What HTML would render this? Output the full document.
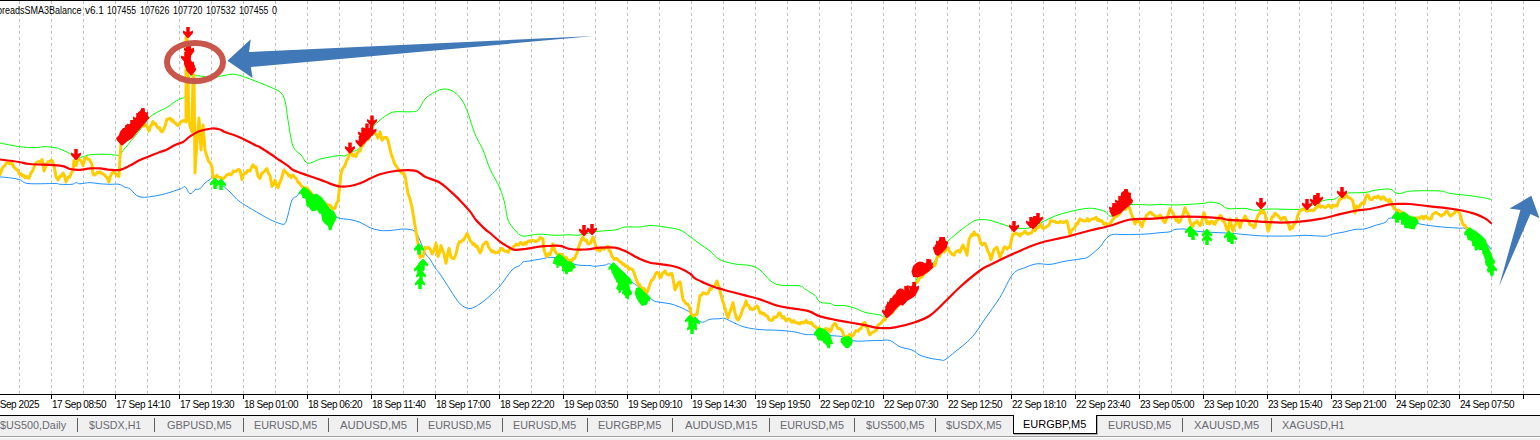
<!DOCTYPE html>
<html><head><meta charset="utf-8"><style>
html,body{margin:0;padding:0;width:1540px;height:440px;overflow:hidden;background:#fff;}
body{position:relative;font-family:"Liberation Sans",sans-serif;}
svg{position:absolute;left:0;top:0;}
.tl{position:absolute;top:399px;font-size:10px;line-height:12px;letter-spacing:-0.45px;color:#000;white-space:nowrap;}
.top{position:absolute;top:5px;font-size:10px;line-height:12px;color:#000;white-space:nowrap;transform-origin:0 0;}
#tabbar{position:absolute;left:0;top:416px;width:1540px;height:20px;background:#f0f0f0;}
.tab{position:absolute;top:418px;font-size:11.5px;line-height:14px;color:#6a6a72;white-space:nowrap;transform-origin:0 0;}
.sep{position:absolute;top:418px;width:1px;height:14px;background:#606060;}
#active{position:absolute;left:1013px;top:415px;width:82px;height:18px;background:#fff;border:1px solid #000;border-top:none;box-shadow:1px 1px 0 #b0b0b0;}
</style></head><body>
<div id="tabbar"></div>
<div style="position:absolute;left:0;top:436px;width:1540px;height:1px;background:#a0a0a0"></div>
<div style="position:absolute;left:0;top:437px;width:1540px;height:1px;background:#fff"></div>
<div style="position:absolute;left:0;top:438px;width:1540px;height:2px;background:#f0f0f0"></div>
<svg width="1540" height="440" viewBox="0 0 1540 440">
<rect x="0" y="0" width="1540" height="1" fill="#000"/>
<g stroke="#c0c0c0" stroke-width="1" stroke-dasharray="3,3"><line x1="19.5" y1="1" x2="19.5" y2="394" /><line x1="51.5" y1="1" x2="51.5" y2="394" /><line x1="83.5" y1="1" x2="83.5" y2="394" /><line x1="115.5" y1="1" x2="115.5" y2="394" /><line x1="147.5" y1="1" x2="147.5" y2="394" /><line x1="179.5" y1="1" x2="179.5" y2="394" /><line x1="211.5" y1="1" x2="211.5" y2="394" /><line x1="243.5" y1="1" x2="243.5" y2="394" /><line x1="275.5" y1="1" x2="275.5" y2="394" /><line x1="307.5" y1="1" x2="307.5" y2="394" /><line x1="339.5" y1="1" x2="339.5" y2="394" /><line x1="371.5" y1="1" x2="371.5" y2="394" /><line x1="403.5" y1="1" x2="403.5" y2="394" /><line x1="435.5" y1="1" x2="435.5" y2="394" /><line x1="467.5" y1="1" x2="467.5" y2="394" /><line x1="499.5" y1="1" x2="499.5" y2="394" /><line x1="531.5" y1="1" x2="531.5" y2="394" /><line x1="563.5" y1="1" x2="563.5" y2="394" /><line x1="595.5" y1="1" x2="595.5" y2="394" /><line x1="627.5" y1="1" x2="627.5" y2="394" /><line x1="659.5" y1="1" x2="659.5" y2="394" /><line x1="691.5" y1="1" x2="691.5" y2="394" /><line x1="723.5" y1="1" x2="723.5" y2="394" /><line x1="755.5" y1="1" x2="755.5" y2="394" /><line x1="787.5" y1="1" x2="787.5" y2="394" /><line x1="819.5" y1="1" x2="819.5" y2="394" /><line x1="851.5" y1="1" x2="851.5" y2="394" /><line x1="883.5" y1="1" x2="883.5" y2="394" /><line x1="915.5" y1="1" x2="915.5" y2="394" /><line x1="947.5" y1="1" x2="947.5" y2="394" /><line x1="979.5" y1="1" x2="979.5" y2="394" /><line x1="1011.5" y1="1" x2="1011.5" y2="394" /><line x1="1043.5" y1="1" x2="1043.5" y2="394" /><line x1="1075.5" y1="1" x2="1075.5" y2="394" /><line x1="1107.5" y1="1" x2="1107.5" y2="394" /><line x1="1139.5" y1="1" x2="1139.5" y2="394" /><line x1="1171.5" y1="1" x2="1171.5" y2="394" /><line x1="1203.5" y1="1" x2="1203.5" y2="394" /><line x1="1235.5" y1="1" x2="1235.5" y2="394" /><line x1="1267.5" y1="1" x2="1267.5" y2="394" /><line x1="1299.5" y1="1" x2="1299.5" y2="394" /><line x1="1331.5" y1="1" x2="1331.5" y2="394" /><line x1="1363.5" y1="1" x2="1363.5" y2="394" /><line x1="1395.5" y1="1" x2="1395.5" y2="394" /><line x1="1427.5" y1="1" x2="1427.5" y2="394" /><line x1="1459.5" y1="1" x2="1459.5" y2="394" /><line x1="1491.5" y1="1" x2="1491.5" y2="394" /><line x1="1523.5" y1="1" x2="1523.5" y2="394" /></g>
<rect x="0" y="394" width="1540" height="1" fill="#000"/>
<rect x="0" y="415" width="1540" height="1" fill="#000"/>
<g stroke="#000" stroke-width="1"><line x1="51.5" y1="395" x2="51.5" y2="399" /><line x1="115.5" y1="395" x2="115.5" y2="399" /><line x1="179.5" y1="395" x2="179.5" y2="399" /><line x1="243.5" y1="395" x2="243.5" y2="399" /><line x1="307.5" y1="395" x2="307.5" y2="399" /><line x1="371.5" y1="395" x2="371.5" y2="399" /><line x1="435.5" y1="395" x2="435.5" y2="399" /><line x1="499.5" y1="395" x2="499.5" y2="399" /><line x1="563.5" y1="395" x2="563.5" y2="399" /><line x1="627.5" y1="395" x2="627.5" y2="399" /><line x1="691.5" y1="395" x2="691.5" y2="399" /><line x1="755.5" y1="395" x2="755.5" y2="399" /><line x1="819.5" y1="395" x2="819.5" y2="399" /><line x1="883.5" y1="395" x2="883.5" y2="399" /><line x1="947.5" y1="395" x2="947.5" y2="399" /><line x1="1011.5" y1="395" x2="1011.5" y2="399" /><line x1="1075.5" y1="395" x2="1075.5" y2="399" /><line x1="1139.5" y1="395" x2="1139.5" y2="399" /><line x1="1203.5" y1="395" x2="1203.5" y2="399" /><line x1="1267.5" y1="395" x2="1267.5" y2="399" /><line x1="1331.5" y1="395" x2="1331.5" y2="399" /><line x1="1395.5" y1="395" x2="1395.5" y2="399" /><line x1="1459.5" y1="395" x2="1459.5" y2="399" /><line x1="1523.5" y1="395" x2="1523.5" y2="399" /></g>
<g fill="none" stroke-linejoin="round" stroke-linecap="round">
<path d="M0.0,143.0 C3.2,143.6 13.2,145.8 19.0,146.6 C24.8,147.4 30.7,147.7 35.0,147.7 C39.3,147.7 41.7,146.6 45.0,146.6 C48.3,146.6 52.5,147.3 55.0,147.7 C57.5,148.1 57.5,148.0 60.0,149.0 C62.5,150.0 67.3,152.1 70.0,153.6 C72.7,155.1 74.0,157.6 76.0,158.2 C78.0,158.8 79.7,157.6 82.0,157.0 C84.3,156.4 86.2,155.3 90.0,154.8 C93.8,154.3 100.8,154.1 105.0,154.2 C109.2,154.2 112.5,155.0 115.0,155.1 C117.5,155.2 118.5,155.8 120.0,154.8 C121.5,153.9 120.8,153.3 124.0,149.4 C127.2,145.5 134.7,136.7 139.0,131.2 C143.3,125.8 146.5,120.4 150.0,117.0 C153.5,113.6 157.3,112.3 160.0,110.8 C162.7,109.3 163.5,109.5 166.0,108.0 C168.5,106.5 172.5,103.3 175.0,101.7 C177.5,100.1 179.3,99.4 181.0,98.6 C182.7,97.8 184.0,98.5 185.0,96.6 C186.0,94.7 186.2,90.3 187.0,87.0 C187.8,83.7 189.0,78.7 189.8,76.8 C190.6,74.9 190.1,75.6 191.8,75.5 C193.5,75.4 196.6,75.7 200.0,76.0 C203.4,76.3 207.8,77.6 212.0,77.5 C216.2,77.4 221.2,75.8 225.0,75.3 C228.8,74.8 230.8,73.7 235.0,74.3 C239.2,74.9 244.2,76.9 250.0,79.0 C255.8,81.1 265.0,84.8 270.0,87.0 C275.0,89.2 277.5,89.7 280.0,92.0 C282.5,94.3 283.7,96.3 285.0,101.0 C286.3,105.7 286.7,112.5 288.0,120.0 C289.3,127.5 290.8,140.2 293.0,146.0 C295.2,151.8 298.5,152.1 301.0,155.0 C303.5,157.9 304.8,162.5 308.0,163.2 C311.2,163.9 316.3,160.1 320.0,159.1 C323.7,158.1 326.7,157.6 330.0,157.0 C333.3,156.4 337.5,155.7 340.0,155.5 C342.5,155.3 343.3,156.4 345.0,155.9 C346.7,155.4 347.5,153.9 350.0,152.5 C352.5,151.1 356.3,151.7 360.0,147.7 C363.7,143.7 369.0,132.9 372.0,128.6 C375.0,124.3 375.5,124.3 378.0,122.0 C380.5,119.7 384.2,116.7 387.0,115.0 C389.8,113.3 391.2,112.3 395.0,111.8 C398.8,111.3 406.2,112.1 410.0,111.8 C413.8,111.5 415.5,112.1 418.0,110.0 C420.5,107.9 422.2,102.0 425.0,99.0 C427.8,96.0 431.7,93.7 435.0,92.0 C438.3,90.3 441.7,88.9 445.0,89.0 C448.3,89.1 451.7,90.0 455.0,92.7 C458.3,95.5 461.7,98.6 465.0,105.5 C468.3,112.4 472.0,126.6 475.0,134.0 C478.0,141.4 480.5,144.2 483.0,150.0 C485.5,155.8 487.2,162.6 490.0,169.0 C492.8,175.4 497.5,182.3 500.0,188.2 C502.5,194.1 503.7,199.2 505.0,204.5 C506.3,209.8 506.3,215.7 508.0,220.0 C509.7,224.3 512.7,227.5 515.0,230.2 C517.3,232.8 519.5,235.1 522.0,235.9 C524.5,236.8 527.0,235.6 530.0,235.3 C533.0,235.0 535.8,234.2 540.0,234.2 C544.2,234.2 550.0,235.2 555.0,235.3 C560.0,235.4 565.8,234.9 570.0,234.8 C574.2,234.8 575.3,235.6 580.0,235.0 C584.7,234.4 592.2,232.2 598.0,231.4 C603.8,230.6 610.5,230.7 615.0,230.0 C619.5,229.3 620.8,227.5 625.0,227.0 C629.2,226.5 635.8,227.2 640.0,227.0 C644.2,226.8 645.8,225.5 650.0,225.5 C654.2,225.5 660.0,226.2 665.0,227.0 C670.0,227.8 675.8,228.4 680.0,230.0 C684.2,231.6 686.7,234.3 690.0,236.6 C693.3,238.9 696.7,241.6 700.0,244.0 C703.3,246.4 706.7,248.4 710.0,251.0 C713.3,253.6 715.8,257.5 720.0,259.7 C724.2,261.9 730.0,263.0 735.0,264.0 C740.0,265.0 745.8,264.5 750.0,265.5 C754.2,266.5 756.7,267.5 760.0,270.0 C763.3,272.5 766.7,277.8 770.0,280.3 C773.3,282.8 775.0,284.2 780.0,285.1 C785.0,286.0 795.8,285.2 800.0,285.9 C804.2,286.5 802.5,287.4 805.0,289.0 C807.5,290.6 812.8,293.6 815.0,295.4 C817.2,297.2 816.8,298.8 818.0,300.0 C819.2,301.2 820.0,302.1 822.0,302.7 C824.0,303.3 827.8,302.9 830.0,303.4 C832.2,303.9 832.5,305.1 835.0,305.5 C837.5,305.9 841.7,305.2 845.0,305.7 C848.3,306.1 851.7,307.1 855.0,308.2 C858.3,309.3 860.8,311.2 865.0,312.3 C869.2,313.4 876.7,314.3 880.0,315.0 C883.3,315.7 881.7,318.3 885.0,316.4 C888.3,314.5 896.7,306.0 900.0,303.7 C903.3,301.4 902.5,306.2 905.0,302.6 C907.5,299.0 911.7,287.8 915.0,282.0 C918.3,276.2 921.7,271.5 925.0,268.0 C928.3,264.5 932.5,264.1 935.0,260.9 C937.5,257.7 937.8,252.3 940.0,249.0 C942.2,245.7 944.7,244.0 948.0,241.0 C951.3,238.0 956.3,233.7 960.0,230.8 C963.7,227.9 967.2,225.2 970.0,223.4 C972.8,221.6 974.0,220.6 977.0,220.0 C980.0,219.4 984.2,219.4 988.0,220.0 C991.8,220.6 996.2,222.2 1000.0,223.4 C1003.8,224.6 1007.7,226.2 1011.0,227.0 C1014.3,227.8 1016.8,228.3 1020.0,228.4 C1023.2,228.5 1026.3,228.7 1030.0,227.7 C1033.7,226.7 1037.8,224.2 1042.0,222.3 C1046.2,220.4 1050.3,217.8 1055.0,216.0 C1059.7,214.2 1065.0,212.8 1070.0,211.6 C1075.0,210.4 1080.8,209.1 1085.0,208.6 C1089.2,208.1 1091.7,208.1 1095.0,208.6 C1098.3,209.1 1102.2,210.4 1105.0,211.6 C1107.8,212.8 1108.2,217.1 1112.0,216.0 C1115.8,214.9 1121.7,207.0 1128.0,205.2 C1134.3,203.4 1144.7,205.1 1150.0,205.0 C1155.3,204.9 1155.8,204.4 1160.0,204.4 C1164.2,204.4 1170.0,205.0 1175.0,205.0 C1180.0,205.0 1185.0,204.6 1190.0,204.3 C1195.0,204.0 1201.7,203.6 1205.0,203.2 C1208.3,202.8 1207.5,202.0 1210.0,202.1 C1212.5,202.2 1217.0,202.8 1220.0,203.9 C1223.0,205.0 1223.8,207.8 1228.0,208.6 C1232.2,209.3 1240.5,208.1 1245.0,208.4 C1249.5,208.7 1250.8,210.2 1255.0,210.3 C1259.2,210.4 1262.5,209.2 1270.0,209.0 C1277.5,208.8 1293.0,209.9 1300.0,209.3 C1307.0,208.7 1307.8,206.7 1312.0,205.2 C1316.2,203.7 1321.2,201.2 1325.0,200.2 C1328.8,199.2 1332.5,199.8 1335.0,199.0 C1337.5,198.2 1337.8,196.3 1340.0,195.3 C1342.2,194.3 1343.8,193.5 1348.0,193.0 C1352.2,192.5 1360.5,193.0 1365.0,192.5 C1369.5,192.0 1370.8,190.8 1375.0,190.2 C1379.2,189.6 1386.7,188.7 1390.0,189.1 C1393.3,189.5 1393.3,191.8 1395.0,192.5 C1396.7,193.2 1397.2,193.7 1400.0,193.4 C1402.8,193.2 1405.3,191.4 1412.0,191.0 C1418.7,190.6 1433.7,190.6 1440.0,191.0 C1446.3,191.4 1445.0,192.6 1450.0,193.4 C1455.0,194.2 1464.2,194.9 1470.0,195.7 C1475.8,196.5 1481.5,197.4 1485.0,198.0 C1488.5,198.6 1490.0,199.2 1491.0,199.5" stroke="#00ff00" stroke-width="1"/>
<path d="M0.0,177.0 C1.2,177.1 3.8,177.1 7.0,177.5 C10.2,177.9 15.5,178.5 19.0,179.5 C22.5,180.5 22.0,182.8 28.0,183.5 C34.0,184.2 49.7,183.4 55.0,183.5 C60.3,183.6 57.2,184.2 60.0,184.3 C62.8,184.4 69.3,184.6 72.0,184.3 C74.7,184.0 74.7,182.7 76.0,182.6 C77.3,182.5 77.7,183.8 80.0,183.8 C82.3,183.8 86.7,182.6 90.0,182.6 C93.3,182.6 96.7,183.5 100.0,183.8 C103.3,184.0 106.8,184.2 110.0,184.3 C113.2,184.4 116.5,183.8 119.0,184.3 C121.5,184.8 123.2,186.4 125.0,187.2 C126.8,188.0 127.5,187.3 130.0,188.9 C132.5,190.5 135.0,196.0 140.0,197.0 C145.0,198.0 153.3,196.3 160.0,195.0 C166.7,193.7 175.8,190.4 180.0,189.0 C184.2,187.6 183.3,185.9 185.0,186.7 C186.7,187.5 188.3,193.3 190.0,193.8 C191.7,194.3 193.3,190.7 195.0,189.8 C196.7,188.9 198.3,189.7 200.0,188.6 C201.7,187.5 203.3,184.5 205.0,183.0 C206.7,181.5 208.7,180.4 210.0,179.5 C211.3,178.6 210.8,176.8 213.0,177.8 C215.2,178.9 220.2,183.4 223.0,185.8 C225.8,188.2 227.7,189.7 230.0,192.0 C232.3,194.3 234.5,197.2 237.0,199.4 C239.5,201.6 241.2,202.6 245.0,205.0 C248.8,207.4 255.8,211.6 260.0,214.0 C264.2,216.4 266.7,217.9 270.0,219.5 C273.3,221.1 277.5,222.9 280.0,223.6 C282.5,224.3 283.7,225.0 285.0,223.6 C286.3,222.2 286.8,218.9 288.0,215.0 C289.2,211.1 290.5,203.2 292.0,200.0 C293.5,196.8 295.3,197.4 297.0,196.0 C298.7,194.6 299.0,191.1 302.0,191.8 C305.0,192.5 311.2,197.3 315.0,200.0 C318.8,202.7 321.3,205.1 325.0,208.0 C328.7,210.9 332.8,215.6 337.0,217.5 C341.2,219.4 346.2,218.8 350.0,219.6 C353.8,220.4 356.7,221.0 360.0,222.3 C363.3,223.7 366.7,226.3 370.0,227.7 C373.3,229.0 376.7,229.9 380.0,230.4 C383.3,230.9 385.8,230.7 390.0,230.5 C394.2,230.3 400.8,228.8 405.0,229.0 C409.2,229.2 412.5,229.5 415.0,231.4 C417.5,233.3 418.3,236.9 420.0,240.5 C421.7,244.1 423.3,249.9 425.0,253.0 C426.7,256.1 428.3,256.8 430.0,259.2 C431.7,261.6 433.3,265.2 435.0,267.7 C436.7,270.2 437.5,270.4 440.0,274.0 C442.5,277.6 446.7,284.4 450.0,289.4 C453.3,294.4 456.7,300.6 460.0,303.8 C463.3,307.0 466.7,308.5 470.0,308.5 C473.3,308.5 476.7,305.9 480.0,303.8 C483.3,301.7 486.7,298.8 490.0,295.8 C493.3,292.8 496.3,290.3 500.0,286.0 C503.7,281.7 508.7,273.4 512.0,270.0 C515.3,266.6 518.2,266.8 520.0,265.5 C521.8,264.2 521.3,262.8 523.0,262.0 C524.7,261.2 527.2,261.4 530.0,260.9 C532.8,260.4 535.8,259.8 540.0,259.2 C544.2,258.6 549.0,256.6 555.0,257.5 C561.0,258.4 570.2,263.4 576.0,264.7 C581.8,266.0 586.8,265.2 590.0,265.5 C593.2,265.8 592.5,266.4 595.0,266.3 C597.5,266.2 602.2,265.3 605.0,265.1 C607.8,264.9 607.5,262.2 612.0,265.0 C616.5,267.8 627.3,278.2 632.0,282.0 C636.7,285.8 636.7,284.8 640.0,287.7 C643.3,290.6 648.7,297.3 652.0,299.7 C655.3,302.1 657.0,301.6 660.0,302.3 C663.0,303.0 666.7,302.9 670.0,303.7 C673.3,304.5 676.5,305.6 680.0,307.1 C683.5,308.7 687.5,310.5 691.0,313.0 C694.5,315.5 697.8,320.9 701.0,322.0 C704.2,323.1 706.8,319.9 710.0,319.3 C713.2,318.8 717.5,318.8 720.0,318.7 C722.5,318.6 722.5,317.7 725.0,318.5 C727.5,319.3 731.7,321.9 735.0,323.3 C738.3,324.8 740.8,326.1 745.0,327.2 C749.2,328.2 754.2,329.1 760.0,329.6 C765.8,330.1 774.2,330.0 780.0,330.4 C785.8,330.8 790.8,331.3 795.0,332.0 C799.2,332.7 801.7,333.9 805.0,334.4 C808.3,334.9 808.3,334.4 815.0,334.8 C821.7,335.2 838.3,335.8 845.0,336.8 C851.7,337.8 850.8,340.4 855.0,341.0 C859.2,341.6 865.8,340.8 870.0,340.7 C874.2,340.6 876.7,340.5 880.0,340.5 C883.3,340.5 886.7,339.4 890.0,340.5 C893.3,341.6 896.3,345.2 900.0,346.8 C903.7,348.4 908.7,348.6 912.0,350.0 C915.3,351.4 917.0,353.8 920.0,355.2 C923.0,356.6 926.7,357.4 930.0,358.2 C933.3,359.0 937.5,359.5 940.0,359.8 C942.5,360.1 942.5,361.1 945.0,359.8 C947.5,358.5 951.7,354.5 955.0,351.8 C958.3,349.1 961.7,346.9 965.0,343.9 C968.3,340.9 971.7,337.8 975.0,333.6 C978.3,329.4 980.8,324.9 985.0,318.9 C989.2,312.8 995.3,304.8 1000.0,297.3 C1004.7,289.8 1008.8,278.9 1013.0,274.0 C1017.2,269.1 1021.0,269.3 1025.0,267.6 C1029.0,265.9 1032.8,264.3 1037.0,263.8 C1041.2,263.3 1045.3,264.8 1050.0,264.4 C1054.7,264.0 1060.0,262.1 1065.0,261.2 C1070.0,260.3 1076.2,259.7 1080.0,259.0 C1083.8,258.3 1084.7,259.0 1088.0,257.0 C1091.3,255.0 1097.2,249.7 1100.0,246.9 C1102.8,244.1 1103.0,242.1 1105.0,240.0 C1107.0,237.9 1108.7,235.5 1112.0,234.6 C1115.3,233.7 1119.5,234.7 1125.0,234.6 C1130.5,234.5 1139.2,234.4 1145.0,234.1 C1150.8,233.8 1155.8,233.1 1160.0,232.7 C1164.2,232.3 1167.5,232.3 1170.0,231.8 C1172.5,231.3 1172.5,229.9 1175.0,229.5 C1177.5,229.1 1180.8,228.8 1185.0,229.1 C1189.2,229.4 1192.5,230.9 1200.0,231.6 C1207.5,232.3 1222.5,232.7 1230.0,233.2 C1237.5,233.7 1239.2,234.1 1245.0,234.6 C1250.8,235.1 1257.5,235.8 1265.0,236.0 C1272.5,236.2 1283.3,236.1 1290.0,236.0 C1296.7,235.9 1299.2,235.3 1305.0,235.3 C1310.8,235.3 1320.3,236.4 1325.0,236.2 C1329.7,236.0 1329.7,234.7 1333.0,234.0 C1336.3,233.3 1341.3,232.6 1345.0,231.8 C1348.7,231.0 1351.7,229.9 1355.0,229.4 C1358.3,228.9 1361.7,229.6 1365.0,228.9 C1368.3,228.2 1371.7,226.6 1375.0,225.5 C1378.3,224.4 1382.2,223.8 1385.0,222.6 C1387.8,221.3 1386.2,217.8 1392.0,218.0 C1397.8,218.2 1412.0,222.5 1420.0,224.0 C1428.0,225.5 1433.3,226.1 1440.0,226.8 C1446.7,227.5 1455.8,227.9 1460.0,228.2 C1464.2,228.5 1461.7,227.1 1465.0,228.6 C1468.3,230.1 1475.7,233.6 1480.0,237.0 C1484.3,240.4 1489.2,247.0 1491.0,249.0" stroke="#1e90ff" stroke-width="1"/>
<polyline points="0.0,174.5 2.0,169.0 3.5,166.6 5.0,165.5 6.5,162.8 8.0,162.7 9.5,163.7 11.0,163.6 12.3,163.6 13.7,166.8 15.0,168.2 16.2,169.3 17.5,169.8 18.8,173.0 20.0,174.5 21.2,173.6 22.5,175.9 23.8,175.4 25.0,177.7 26.3,176.4 27.7,177.8 29.0,178.2 31.0,172.7 32.5,171.2 34.0,167.3 35.3,164.1 36.7,162.6 38.0,161.8 39.3,161.5 40.7,161.9 42.0,159.5 43.0,163.6 44.0,171.0 46.0,165.5 48.0,161.8 49.3,161.6 50.7,160.6 52.0,160.5 54.0,165.5 56.0,176.4 58.0,180.0 60.0,176.0 61.5,176.2 63.0,173.0 64.5,175.9 66.0,182.0 68.0,177.5 69.5,177.0 71.0,174.0 73.0,169.5 74.0,160.5 76.0,165.6 78.0,159.3 79.5,159.4 81.0,161.0 83.0,165.6 85.0,158.2 86.5,157.5 88.0,159.3 89.3,159.6 90.7,162.0 92.0,164.4 93.0,174.0 94.5,175.1 96.0,174.0 97.3,172.1 98.7,172.8 100.0,171.8 101.5,173.4 103.0,174.0 104.3,174.7 105.7,176.5 107.0,177.5 109.0,182.0 110.5,175.9 112.0,173.0 113.3,171.7 114.7,172.6 116.0,174.0 117.5,175.8 119.0,176.4 120.0,157.0 121.0,144.5 122.3,142.7 123.7,140.8 125.0,140.0 126.2,138.8 127.5,136.8 128.8,134.8 130.0,134.0 131.2,134.1 132.5,132.7 133.8,130.1 135.0,130.0 136.2,129.3 137.5,128.1 138.8,128.4 140.0,126.0 141.2,126.3 142.5,124.2 143.8,126.2 145.0,123.9 147.0,126.0 149.0,131.2 150.3,126.7 151.7,124.5 153.0,121.6 154.3,124.2 155.7,123.7 157.0,126.7 158.2,127.9 159.5,127.6 160.8,131.1 162.0,131.8 163.5,129.9 165.0,126.0 167.0,119.3 168.5,119.0 170.0,118.2 171.2,120.7 172.5,119.8 173.8,122.3 175.0,122.7 176.5,124.5 178.0,125.6 179.5,123.9 181.0,121.6 182.5,120.9 184.0,120.5 186.0,122.0 186.0,37.0 187.0,37.0 189.0,121.0 190.5,127.7 192.0,132.0 193.0,75.0 194.0,75.0 195.0,173.0 197.0,140.0 199.0,118.0 201.0,150.0 203.0,125.0 205.0,150.0 207.0,156.8 208.5,161.3 210.0,162.5 212.0,167.0 213.0,177.3 214.2,177.1 215.5,177.6 216.8,175.3 218.0,176.7 219.4,177.5 220.8,177.5 222.2,178.8 223.6,178.3 225.0,177.3 226.5,175.1 228.0,174.4 229.3,173.8 230.7,174.7 232.0,173.9 233.5,171.0 235.0,171.6 236.2,171.2 237.5,169.9 238.8,169.4 240.0,170.5 242.0,179.5 243.5,174.5 245.0,172.7 246.2,173.2 247.5,170.5 248.8,170.5 250.0,171.0 251.5,167.5 253.0,164.8 254.5,167.2 256.0,167.0 258.0,176.1 260.0,178.4 261.5,174.0 263.0,172.7 264.3,171.2 265.7,170.1 267.0,168.6 268.5,173.4 270.0,175.5 272.0,186.4 273.5,184.4 275.0,180.2 276.5,185.3 278.0,187.7 279.5,183.2 281.0,180.2 282.5,174.8 284.0,170.0 286.0,172.7 287.3,173.1 288.7,175.9 290.0,175.5 291.2,177.6 292.5,175.2 293.8,175.8 295.0,177.5 296.5,178.9 298.0,182.3 299.3,182.7 300.7,185.0 302.0,186.4 303.5,187.4 305.0,187.7 306.2,187.9 307.5,188.0 308.8,190.5 310.0,191.4 311.2,193.1 312.5,195.6 313.8,195.6 315.0,196.0 316.2,196.9 317.5,198.2 318.8,199.3 320.0,197.9 321.2,201.8 322.5,202.3 323.8,203.5 325.0,203.0 326.4,205.1 327.8,204.6 329.2,205.6 330.6,205.6 332.0,208.0 333.5,208.6 335.0,208.2 336.5,203.2 338.0,201.4 341.0,173.7 342.3,169.4 343.7,167.2 345.0,165.5 346.5,160.9 348.0,158.7 350.0,151.8 351.5,153.3 353.0,156.0 354.5,154.7 356.0,156.6 357.3,153.0 358.7,151.7 360.0,151.2 361.5,146.7 363.0,145.0 364.3,142.7 365.7,139.7 367.0,139.6 368.2,139.6 369.5,137.3 370.8,134.2 372.0,134.1 373.5,132.5 375.0,132.7 376.5,134.9 378.0,138.2 380.0,132.0 382.0,140.2 383.5,138.4 385.0,137.5 386.5,137.5 388.0,140.2 390.0,149.1 391.5,155.2 393.0,158.7 394.5,163.9 396.0,165.5 398.0,168.9 399.5,170.5 401.0,172.3 402.3,173.5 403.7,173.3 405.0,176.0 408.0,193.6 409.3,196.7 410.7,202.2 412.0,207.3 415.0,225.7 417.0,237.0 419.0,249.5 420.0,257.5 421.5,256.1 423.0,256.4 425.0,247.3 426.5,248.5 428.0,247.3 429.3,248.3 430.7,250.0 432.0,254.0 434.0,250.7 436.0,243.3 438.0,256.4 439.5,252.6 441.0,245.6 442.5,249.9 444.0,254.0 446.0,263.2 447.5,254.5 449.0,248.4 451.0,257.5 452.5,258.2 454.0,258.6 456.0,254.0 458.0,245.0 459.3,241.8 460.7,242.1 462.0,240.5 463.2,240.5 464.5,238.4 465.8,236.0 467.0,233.6 468.5,236.2 470.0,240.5 471.5,242.0 473.0,244.4 474.3,243.8 475.7,246.5 477.0,246.1 478.5,249.7 480.0,253.0 481.5,250.0 483.0,245.0 484.3,243.5 485.7,242.1 487.0,242.2 488.5,246.7 490.0,249.0 491.5,251.6 493.0,250.7 494.3,252.5 495.7,252.9 497.0,252.4 498.3,252.2 499.7,250.6 501.0,248.4 502.3,248.4 503.7,250.4 505.0,251.2 506.5,251.3 508.0,252.4 509.3,249.6 510.7,248.4 512.0,249.0 513.5,246.5 515.0,245.6 516.2,244.0 517.5,244.8 518.8,245.1 520.0,242.7 521.2,242.5 522.5,244.3 523.8,244.5 525.0,242.7 526.2,244.1 527.5,241.7 528.8,240.9 530.0,241.6 531.2,240.6 532.5,240.5 533.8,240.5 535.0,241.6 536.2,241.0 537.5,241.0 538.8,239.8 540.0,237.6 541.5,238.1 543.0,238.8 543.5,247.3 544.8,252.1 546.0,255.8 547.3,256.5 548.7,253.6 550.0,254.7 551.5,249.9 553.0,243.9 554.5,249.9 556.0,253.0 557.3,254.3 558.7,254.6 560.0,254.0 561.2,254.8 562.5,254.6 563.8,257.7 565.0,257.5 566.4,257.5 567.8,259.9 569.2,261.1 570.6,259.7 572.0,260.7 573.3,258.4 574.7,258.5 576.0,255.0 577.4,252.2 578.8,246.6 580.2,242.9 581.6,239.3 583.0,237.0 584.2,239.9 585.4,240.9 586.6,239.9 587.8,243.8 589.0,244.0 590.3,243.4 591.7,239.9 593.0,237.0 594.3,240.8 595.7,245.8 597.0,250.0 598.5,249.2 600.0,251.0 601.5,247.8 603.0,248.0 604.2,249.3 605.5,247.7 606.8,246.9 608.0,246.4 609.2,250.7 610.5,251.7 611.8,256.1 613.0,257.5 614.4,259.6 615.8,258.3 617.2,259.3 618.6,260.4 620.0,262.0 621.2,262.1 622.5,264.3 623.8,264.1 625.0,266.0 626.2,266.4 627.5,266.0 628.8,269.4 630.0,268.6 631.5,268.9 633.0,270.2 634.3,273.8 635.7,278.0 637.0,281.4 638.2,284.4 639.4,284.3 640.6,287.6 641.8,287.7 643.0,289.3 644.0,288.6 645.5,290.8 647.0,292.7 648.5,288.7 650.0,284.6 651.3,280.6 652.7,279.8 654.0,277.7 655.5,273.9 657.0,272.3 658.5,273.2 660.0,277.7 661.2,277.1 662.5,273.1 663.8,272.5 665.0,270.9 666.5,273.8 668.0,275.0 669.3,274.7 670.7,273.4 672.0,273.6 675.0,290.0 676.5,286.7 678.0,283.2 680.0,281.8 683.0,299.6 684.3,301.2 685.7,303.4 687.0,303.7 688.5,305.0 690.0,309.1 692.0,317.3 693.2,316.8 694.5,315.0 695.8,314.5 697.0,314.6 700.0,295.5 701.5,295.1 703.0,292.7 704.3,293.2 705.7,293.9 707.0,294.1 708.5,292.3 710.0,288.6 711.2,289.2 712.5,286.7 713.8,286.5 715.0,285.2 717.0,281.1 719.0,287.5 720.5,293.1 722.0,298.6 723.5,303.4 725.0,308.2 726.5,313.6 728.0,317.7 729.2,313.8 730.5,310.3 731.8,306.3 733.0,302.6 735.0,312.9 736.5,318.0 738.0,320.0 739.5,318.0 741.0,314.5 743.0,308.2 744.5,306.0 746.0,301.0 747.3,305.3 748.7,305.5 750.0,309.0 751.2,308.8 752.5,309.8 753.8,309.0 755.0,307.4 757.0,305.8 758.5,308.1 760.0,313.0 761.2,312.2 762.5,313.9 763.8,313.2 765.0,315.3 766.2,315.5 767.5,316.1 768.8,319.4 770.0,320.0 771.2,320.4 772.5,320.3 773.8,317.0 775.0,317.7 776.2,317.3 777.5,315.9 778.8,312.9 780.0,313.0 781.2,316.0 782.5,317.8 783.8,316.7 785.0,319.3 786.2,320.9 787.5,318.9 788.8,319.3 790.0,319.3 791.2,321.9 792.5,322.1 793.8,320.5 795.0,322.5 796.2,322.6 797.5,323.3 798.8,323.0 800.0,324.0 801.2,322.3 802.5,322.2 803.8,323.1 805.0,321.7 806.2,320.4 807.5,322.7 808.8,322.7 810.0,323.3 811.2,322.3 812.5,324.2 813.8,326.1 815.0,326.4 816.5,327.9 818.0,329.3 819.4,327.7 820.8,331.0 822.2,330.3 823.6,331.0 825.0,329.3 826.2,328.4 827.5,329.5 828.8,329.2 830.0,331.4 831.3,329.9 832.7,325.6 834.0,323.9 835.2,323.5 836.4,325.5 837.6,328.2 838.8,328.8 840.0,328.6 841.2,329.8 842.5,331.4 843.8,336.3 845.0,336.8 846.3,336.8 847.7,337.1 849.0,334.7 850.3,334.3 851.7,336.4 853.0,335.5 854.3,333.6 855.7,330.8 857.0,330.7 858.2,331.3 859.5,329.1 860.8,328.7 862.0,326.6 863.5,323.1 865.0,322.5 866.2,326.9 867.5,327.1 868.8,333.0 870.0,334.8 871.2,333.6 872.5,332.2 873.8,331.9 875.0,330.7 876.2,330.5 877.5,326.5 878.8,324.3 880.0,323.9 881.2,323.0 882.5,321.0 883.8,319.6 885.0,320.0 886.2,317.4 887.5,315.6 888.8,314.8 890.0,313.8 891.2,312.4 892.5,312.7 893.8,309.6 895.0,309.0 896.2,307.9 897.5,305.6 898.8,305.1 900.0,302.8 901.2,302.5 902.5,300.5 903.8,302.0 905.0,300.0 906.2,298.2 907.5,294.9 908.8,293.9 910.0,293.6 911.2,288.6 912.5,289.1 913.8,285.8 915.0,284.0 916.2,282.5 917.5,282.2 918.8,279.1 920.0,278.0 921.2,277.2 922.5,276.7 923.8,272.9 925.0,272.0 926.2,272.4 927.5,271.1 928.8,270.1 930.0,268.4 931.2,267.4 932.5,265.5 933.8,265.0 935.0,265.5 937.0,257.5 938.3,254.8 939.6,256.1 940.9,253.2 942.1,251.7 943.4,250.3 944.7,251.9 946.0,249.5 948.0,247.8 949.5,251.7 951.0,253.0 952.5,254.7 954.0,255.2 955.5,252.2 957.0,250.7 958.5,250.6 960.0,252.4 961.5,248.0 963.0,245.0 964.3,248.3 965.7,250.6 967.0,255.2 969.0,239.3 970.2,237.3 971.5,234.7 972.8,235.4 974.0,231.9 975.2,234.9 976.5,234.6 977.8,234.8 979.0,237.0 980.5,242.7 982.0,245.0 983.5,243.5 985.0,243.3 986.5,247.0 988.0,251.8 989.5,254.0 991.0,259.8 992.5,254.2 994.0,249.5 995.5,248.3 997.0,247.3 998.5,252.4 1000.0,257.5 1001.2,253.7 1002.5,252.1 1003.8,247.6 1005.0,246.7 1007.0,249.0 1008.5,247.3 1010.0,247.3 1011.5,239.2 1013.0,234.0 1014.4,234.0 1015.8,233.2 1017.2,233.5 1018.6,234.9 1020.0,236.0 1021.2,233.8 1022.5,233.8 1023.8,232.4 1025.0,231.0 1026.5,233.4 1028.0,234.0 1029.2,233.7 1030.4,233.1 1031.6,232.9 1032.8,230.3 1034.0,229.2 1035.2,230.8 1036.4,226.9 1037.6,228.2 1038.8,227.0 1040.0,225.7 1041.2,224.6 1042.5,227.9 1043.8,228.6 1045.0,227.7 1046.4,226.8 1047.8,225.9 1049.2,224.8 1050.6,221.0 1052.0,221.0 1053.3,221.2 1054.7,221.2 1056.0,222.5 1057.3,222.5 1058.7,222.7 1060.0,221.6 1061.4,221.8 1062.8,222.8 1064.2,221.9 1065.6,221.8 1067.0,221.0 1068.5,226.8 1070.0,234.6 1071.2,231.0 1072.5,229.5 1073.8,228.4 1075.0,227.0 1076.2,223.6 1077.5,224.2 1078.8,221.1 1080.0,218.9 1081.2,219.9 1082.5,220.4 1083.8,221.1 1085.0,221.0 1086.2,220.6 1087.5,218.5 1088.8,221.0 1090.0,220.5 1091.2,219.3 1092.5,219.0 1093.8,219.1 1095.0,218.2 1096.2,217.3 1097.5,220.5 1098.8,219.4 1100.0,221.0 1101.2,220.3 1102.5,221.8 1103.8,224.3 1105.0,224.3 1106.2,223.1 1107.5,224.8 1108.8,225.5 1110.0,223.6 1111.2,221.9 1112.5,219.8 1113.8,218.4 1115.0,216.8 1116.3,216.4 1117.6,215.7 1118.9,214.2 1120.2,213.2 1121.5,210.2 1122.8,209.4 1124.1,208.8 1125.4,209.5 1126.7,206.9 1128.0,206.6 1130.0,208.6 1131.0,213.2 1133.0,217.7 1135.0,224.0 1137.0,220.5 1138.5,221.6 1140.0,222.3 1142.0,226.8 1143.5,221.4 1145.0,219.5 1146.5,215.2 1148.0,214.1 1149.5,212.4 1151.0,212.3 1152.5,214.3 1154.0,215.0 1155.5,216.6 1157.0,216.8 1158.5,216.5 1160.0,215.0 1161.5,217.0 1163.0,220.5 1165.0,222.7 1166.5,218.9 1168.0,215.0 1170.0,208.6 1171.5,210.8 1173.0,213.2 1174.5,216.7 1176.0,220.5 1177.3,219.4 1178.7,222.5 1180.0,221.4 1181.5,217.1 1183.0,215.0 1185.0,207.7 1186.5,212.2 1188.0,213.2 1190.0,221.4 1191.5,225.5 1193.0,226.4 1194.3,222.8 1195.7,222.6 1197.0,220.9 1198.3,223.4 1199.7,225.3 1201.0,225.0 1202.5,218.7 1204.0,212.7 1205.5,217.3 1207.0,223.6 1208.3,221.9 1209.7,223.9 1211.0,221.6 1212.3,221.5 1213.7,223.7 1215.0,224.3 1216.2,220.8 1217.5,220.0 1218.8,219.3 1220.0,215.5 1221.2,216.2 1222.5,220.7 1223.8,221.6 1225.0,223.6 1226.5,228.8 1228.0,231.2 1230.0,218.9 1231.5,225.8 1233.0,231.2 1234.3,226.1 1235.7,224.4 1237.0,218.9 1238.5,223.3 1240.0,227.7 1241.2,223.1 1242.5,220.1 1243.8,218.9 1245.0,216.0 1246.2,218.1 1247.5,219.8 1248.8,221.5 1250.0,225.0 1251.2,224.9 1252.5,225.3 1253.8,227.7 1255.0,227.0 1256.5,219.5 1258.0,215.5 1259.5,213.8 1261.0,210.3 1262.3,212.8 1263.7,211.4 1265.0,214.0 1268.0,231.2 1269.3,227.9 1270.7,222.4 1272.0,216.8 1273.5,216.5 1275.0,213.4 1276.2,213.8 1277.5,215.3 1278.8,216.6 1280.0,218.2 1281.2,219.8 1282.5,218.2 1283.8,217.2 1285.0,217.5 1286.2,220.3 1287.5,222.8 1288.8,225.1 1290.0,229.8 1291.2,226.8 1292.5,228.0 1293.8,224.5 1295.0,223.7 1296.2,222.0 1297.5,216.3 1298.8,213.1 1300.0,210.7 1301.2,210.4 1302.5,208.9 1303.8,209.2 1305.0,209.3 1306.4,211.1 1307.8,211.0 1309.2,210.8 1310.6,210.3 1312.0,210.0 1313.2,210.7 1314.4,210.0 1315.6,207.8 1316.8,207.6 1318.0,206.0 1319.3,204.6 1320.7,207.2 1322.0,206.6 1323.3,206.4 1324.7,207.5 1326.0,207.1 1327.3,205.8 1328.7,205.0 1330.0,206.6 1331.4,208.0 1332.8,205.0 1334.2,206.1 1335.6,205.6 1337.0,206.0 1338.5,201.8 1340.0,199.0 1341.5,198.6 1343.0,196.5 1344.3,198.0 1345.7,195.2 1347.0,195.9 1348.5,197.6 1350.0,198.2 1351.5,199.2 1353.0,201.6 1355.0,213.0 1356.0,206.1 1357.5,206.9 1359.0,207.3 1360.5,204.6 1362.0,202.7 1364.0,203.9 1365.5,198.2 1367.0,194.8 1368.5,195.8 1370.0,199.3 1372.0,199.9 1373.5,197.4 1375.0,197.0 1376.5,197.9 1378.0,195.9 1379.5,197.6 1381.0,199.3 1382.5,197.1 1384.0,197.0 1385.5,199.9 1387.0,199.9 1388.5,201.4 1390.0,199.3 1392.0,203.9 1394.0,208.4 1395.5,209.4 1397.0,210.7 1398.5,210.3 1400.0,212.4 1401.2,212.0 1402.5,212.3 1403.8,213.9 1405.0,213.7 1406.2,215.0 1407.5,215.7 1408.8,217.6 1410.0,218.0 1411.2,219.4 1412.5,219.0 1413.8,217.8 1415.0,217.9 1416.2,218.3 1417.5,217.9 1418.8,217.8 1420.0,218.4 1421.2,216.4 1422.5,216.8 1423.8,218.9 1425.0,216.8 1426.2,216.0 1427.5,217.9 1428.8,218.9 1430.0,219.0 1431.2,218.7 1432.5,214.8 1433.8,213.5 1435.0,212.7 1436.2,212.4 1437.5,213.5 1438.8,214.2 1440.0,215.0 1441.2,216.1 1442.5,215.1 1443.8,214.6 1445.0,212.7 1446.4,211.4 1447.8,211.9 1449.2,214.8 1450.6,216.0 1452.0,215.0 1453.2,213.8 1454.5,213.1 1455.8,209.8 1457.0,210.5 1458.5,211.8 1460.0,213.9 1462.0,221.8 1463.5,225.0 1465.0,225.2 1466.5,228.1 1468.0,228.6 1469.4,231.4 1470.8,233.3 1472.2,232.1 1473.6,233.1 1475.0,236.0 1476.4,236.6 1477.8,239.7 1479.2,242.1 1480.6,244.8 1482.0,245.0 1483.2,248.4 1484.4,250.7 1485.6,253.8 1486.8,255.2 1488.0,258.0 1489.3,261.5 1490.7,263.0 1492.0,268.0" stroke="#ffcc00" stroke-width="3"/>
<path d="M0.0,159.5 C3.2,159.9 14.0,161.2 19.0,162.0 C24.0,162.8 23.2,163.4 30.0,164.0 C36.8,164.6 53.3,164.8 60.0,165.6 C66.7,166.4 66.7,168.3 70.0,169.0 C73.3,169.7 76.7,169.9 80.0,169.8 C83.3,169.7 86.7,168.6 90.0,168.4 C93.3,168.2 96.7,168.2 100.0,168.4 C103.3,168.6 106.7,169.6 110.0,169.8 C113.3,170.0 116.7,170.5 120.0,169.8 C123.3,169.1 126.7,167.2 130.0,165.6 C133.3,164.0 136.7,161.6 140.0,160.0 C143.3,158.4 146.7,157.3 150.0,156.0 C153.3,154.7 157.3,153.0 160.0,152.0 C162.7,151.0 163.5,151.2 166.0,150.0 C168.5,148.8 172.2,146.3 175.0,145.0 C177.8,143.7 180.5,143.4 183.0,142.0 C185.5,140.6 187.2,138.2 190.0,136.4 C192.8,134.6 196.3,132.3 200.0,131.0 C203.7,129.7 208.7,128.8 212.0,128.5 C215.3,128.2 217.8,128.9 220.0,129.5 C222.2,130.1 221.7,130.7 225.0,132.0 C228.3,133.3 235.0,135.2 240.0,137.4 C245.0,139.6 251.7,143.2 255.0,144.9 C258.3,146.6 257.2,145.6 260.0,147.3 C262.8,149.0 268.7,152.8 272.0,155.0 C275.3,157.2 277.3,158.7 280.0,160.5 C282.7,162.3 285.8,164.3 288.0,165.9 C290.2,167.5 291.0,168.9 293.0,170.0 C295.0,171.1 297.5,171.8 300.0,172.7 C302.5,173.6 304.7,174.3 308.0,175.5 C311.3,176.7 316.3,178.2 320.0,179.6 C323.7,180.9 326.7,182.4 330.0,183.6 C333.3,184.8 336.7,186.1 340.0,186.5 C343.3,186.9 346.7,186.5 350.0,186.0 C353.3,185.5 356.7,184.5 360.0,183.3 C363.3,182.1 366.7,180.1 370.0,178.6 C373.3,177.1 375.8,175.6 380.0,174.3 C384.2,173.0 389.2,171.6 395.0,171.0 C400.8,170.4 410.0,169.8 415.0,170.7 C420.0,171.6 420.8,174.7 425.0,176.7 C429.2,178.7 435.8,180.3 440.0,182.7 C444.2,185.1 446.7,187.9 450.0,190.9 C453.3,193.9 456.7,197.0 460.0,200.4 C463.3,203.8 467.3,208.1 470.0,211.4 C472.7,214.7 473.5,217.1 476.0,220.0 C478.5,222.9 482.7,226.9 485.0,229.1 C487.3,231.3 487.5,230.9 490.0,233.0 C492.5,235.1 496.7,239.1 500.0,241.6 C503.3,244.1 507.5,246.4 510.0,247.8 C512.5,249.2 512.5,249.6 515.0,249.8 C517.5,250.0 521.7,249.4 525.0,249.0 C528.3,248.6 531.7,247.8 535.0,247.3 C538.3,246.8 540.8,246.3 545.0,246.1 C549.2,245.9 555.8,245.4 560.0,245.9 C564.2,246.4 565.8,248.4 570.0,249.0 C574.2,249.6 580.0,249.7 585.0,249.5 C590.0,249.3 595.0,248.0 600.0,247.7 C605.0,247.4 610.8,247.0 615.0,247.6 C619.2,248.2 620.8,249.1 625.0,251.0 C629.2,252.9 635.8,257.1 640.0,259.0 C644.2,260.9 646.7,261.8 650.0,262.7 C653.3,263.6 656.7,263.6 660.0,264.1 C663.3,264.6 666.7,264.8 670.0,265.5 C673.3,266.2 676.7,266.8 680.0,268.2 C683.3,269.6 687.5,271.9 690.0,273.6 C692.5,275.3 692.5,276.8 695.0,278.4 C697.5,280.0 701.7,281.7 705.0,283.2 C708.3,284.7 712.5,286.4 715.0,287.3 C717.5,288.2 717.5,287.9 720.0,288.6 C722.5,289.3 725.8,290.4 730.0,291.5 C734.2,292.6 740.0,294.1 745.0,295.4 C750.0,296.7 755.0,297.8 760.0,299.4 C765.0,301.0 770.0,303.5 775.0,305.0 C780.0,306.5 785.8,307.4 790.0,308.2 C794.2,308.9 796.7,308.9 800.0,309.5 C803.3,310.1 806.7,310.5 810.0,311.6 C813.3,312.8 815.8,315.0 820.0,316.4 C824.2,317.8 830.0,318.8 835.0,319.8 C840.0,320.8 845.0,321.6 850.0,322.5 C855.0,323.4 860.0,324.3 865.0,325.2 C870.0,326.1 875.0,327.6 880.0,328.0 C885.0,328.4 889.2,328.2 895.0,327.3 C900.8,326.4 909.2,324.3 915.0,322.3 C920.8,320.3 925.0,318.9 930.0,315.5 C935.0,312.1 940.0,306.6 945.0,301.8 C950.0,297.1 954.2,292.2 960.0,287.0 C965.8,281.8 975.0,274.2 980.0,270.5 C985.0,266.8 986.7,266.6 990.0,264.9 C993.3,263.1 996.7,261.6 1000.0,260.0 C1003.3,258.4 1005.0,257.6 1010.0,255.3 C1015.0,253.1 1024.3,248.8 1030.0,246.5 C1035.7,244.2 1039.8,243.0 1044.0,241.8 C1048.2,240.6 1050.7,240.3 1055.0,239.3 C1059.3,238.3 1064.2,237.5 1070.0,236.0 C1075.8,234.5 1083.3,232.2 1090.0,230.5 C1096.7,228.8 1103.3,227.5 1110.0,225.7 C1116.7,223.9 1123.3,220.7 1130.0,219.5 C1136.7,218.3 1145.0,219.0 1150.0,218.8 C1155.0,218.6 1155.8,218.5 1160.0,218.2 C1164.2,217.9 1168.3,217.0 1175.0,216.8 C1181.7,216.6 1192.5,216.6 1200.0,216.8 C1207.5,217.0 1215.3,217.7 1220.0,218.2 C1224.7,218.7 1223.8,219.4 1228.0,219.8 C1232.2,220.2 1239.7,220.3 1245.0,220.6 C1250.3,220.9 1254.2,221.3 1260.0,221.6 C1265.8,221.9 1273.3,222.6 1280.0,222.6 C1286.7,222.6 1293.3,222.2 1300.0,221.6 C1306.7,221.0 1313.3,220.2 1320.0,218.9 C1326.7,217.7 1335.0,215.3 1340.0,214.1 C1345.0,212.9 1346.7,212.5 1350.0,211.8 C1353.3,211.1 1356.7,210.6 1360.0,210.1 C1363.3,209.6 1366.7,209.6 1370.0,209.0 C1373.3,208.4 1376.7,207.5 1380.0,206.7 C1383.3,205.9 1386.7,204.9 1390.0,204.4 C1393.3,203.9 1396.7,204.0 1400.0,203.9 C1403.3,203.8 1405.0,203.6 1410.0,204.0 C1415.0,204.4 1423.3,205.6 1430.0,206.4 C1436.7,207.2 1444.7,207.9 1450.0,208.6 C1455.3,209.3 1457.8,209.6 1462.0,210.5 C1466.2,211.4 1471.2,212.6 1475.0,213.9 C1478.8,215.2 1482.3,216.9 1485.0,218.4 C1487.7,219.9 1490.0,222.2 1491.0,223.0" stroke="#ff0000" stroke-width="2.2"/>
</g>
<defs><path id="da" d="M-1.75,-11 H1.75 V-6 L4.9,-7.6 L5,-5 L0.6,0 H-0.6 L-5,-5 L-4.9,-7.6 L-1.75,-6 Z"/>
<path id="ua" d="M-1.75,11 H1.75 V6 L4.9,7.6 L5,5 L0.6,0 H-0.6 L-5,5 L-4.9,7.6 L-1.75,6 Z"/></defs>
<g fill="#ff0000"><use href="#da" x="76.0" y="160.0"/><use href="#da" x="188.0" y="38.0"/><use href="#da" x="350.0" y="153.5"/><use href="#da" x="360.5" y="147.0"/><use href="#da" x="364.0" y="143.5"/><use href="#da" x="368.0" y="139.5"/><use href="#da" x="371.5" y="136.0"/><use href="#da" x="363.0" y="139.0"/><use href="#da" x="367.0" y="134.5"/><use href="#da" x="372.0" y="126.5"/><use href="#da" x="584.0" y="236.0"/><use href="#da" x="592.0" y="235.0"/><use href="#da" x="1014.0" y="232.0"/><use href="#da" x="1031.0" y="228.0"/><use href="#da" x="1035.0" y="227.0"/><use href="#da" x="1038.0" y="224.0"/><use href="#da" x="1033.0" y="229.0"/><use href="#da" x="1261.0" y="209.0"/><use href="#da" x="1307.0" y="210.0"/><use href="#da" x="1315.0" y="206.0"/><use href="#da" x="1318.0" y="204.0"/><use href="#da" x="1342.0" y="198.0"/><use href="#da" x="143.0" y="119.3"/><use href="#da" x="138.0" y="124.0"/><use href="#da" x="132.0" y="131.0"/><use href="#da" x="127.0" y="136.0"/><use href="#da" x="122.0" y="145.0"/><use href="#da" x="189.0" y="55.0"/><use href="#da" x="186.0" y="63.0"/><use href="#da" x="191.0" y="75.0"/><use href="#da" x="189.0" y="69.0"/><use href="#da" x="914.0" y="293.0"/><use href="#da" x="906.0" y="297.0"/><use href="#da" x="899.0" y="302.0"/><use href="#da" x="892.0" y="309.0"/><use href="#da" x="887.0" y="317.0"/><use href="#da" x="921.0" y="274.0"/><use href="#da" x="928.0" y="270.0"/><use href="#da" x="941.0" y="248.0"/><use href="#da" x="938.0" y="254.0"/><use href="#da" x="1126.0" y="200.0"/><use href="#da" x="1120.0" y="207.0"/><use href="#da" x="1114.0" y="214.0"/><polygon points="141.4,108.3 144,108.3 144.6,111 147.3,114.2 149.4,118 144,124.4 137.6,131.8 132.3,138.3 127,141.5 122.7,145.2 121,145.2 116.3,139.3 116.3,137.7 119,135 120,131.8 123.2,128.1 124.3,128.1 126.4,124.4 129.1,124.4 130.7,123.3 133.9,119 136,118 137.6,114.8 138.7,112.1 140.3,110.5"/><polygon points="186.2,46.5 190.7,46.5 191.1,49.8 194,49.4 194.4,51 192.3,53.9 190.7,56.3 190.3,59.6 193.2,63.3 195.2,65.8 194.4,69 195.6,70.3 194,72.7 191.9,75.2 191.1,75.2 187.8,71.5 184.6,65.8 184.1,62.1 182.5,56.8 183.3,56.3 185.8,58 185.8,53.5 185.8,49.4"/><polygon points="886.2,318.2 883.3,313 885.7,308.7 886.2,304.4 888.6,302.9 889.6,299.6 891.9,298.6 892.9,295.8 895.3,294.3 896.7,290.5 899.6,288.6 902,288.6 905.3,291 906.3,285.7 908.7,285.3 909.1,290.5 910.6,286.7 913,284.8 913.9,282.4 915.8,282.9 916.3,287.6 919.2,288.6 915.3,295.8 911.5,298.6 907.7,300.5 902.9,305.8 900.5,304.8 896.2,308.7 892.4,313.4 888.6,317.2"/><polygon points="913.1,276.9 911.4,271.8 913.1,266.1 916.5,262.7 919.4,261.5 922.8,262.1 925,263.8 928.5,259.8 931.3,259.3 931.9,265 933.6,267.2 928.5,271.8 922.8,275.75 917.1,277.5"/><polygon points="933.6,250.75 934.7,245.6 938.1,241.1 941.5,237.1 944.9,237.1 945.5,240.5 948.3,242.2 946.6,247.9 942.1,253 938.1,255.9 935.3,254.7"/><polygon points="1112.2,216.4 1109.3,211 1111.8,207 1114.7,203.7 1117.1,203.3 1119.6,201.6 1120,197.9 1121.6,192.6 1124.1,190.6 1125.3,188.9 1127,188.9 1128.6,192.2 1130.6,193 1131,197.9 1133.1,200.4 1132.3,202.9 1129.4,205.7 1125.7,208.6 1120.4,213.5 1115.9,215.6 1113,216.8"/></g>
<g fill="#00ff00"><use href="#ua" x="215.0" y="178.0"/><use href="#ua" x="221.0" y="179.0"/><use href="#ua" x="419.0" y="243.5"/><use href="#ua" x="423.0" y="259.0"/><use href="#ua" x="419.0" y="264.0"/><use href="#ua" x="421.0" y="270.0"/><use href="#ua" x="420.0" y="278.0"/><use href="#ua" x="690.0" y="315.0"/><use href="#ua" x="695.0" y="317.0"/><use href="#ua" x="692.0" y="323.0"/><use href="#ua" x="1190.0" y="226.0"/><use href="#ua" x="1193.0" y="229.0"/><use href="#ua" x="1207.0" y="229.0"/><use href="#ua" x="1207.0" y="234.0"/><use href="#ua" x="1229.0" y="231.0"/><use href="#ua" x="1232.0" y="233.0"/><use href="#ua" x="304.0" y="187.0"/><use href="#ua" x="316.6" y="194.0"/><use href="#ua" x="330.0" y="209.0"/><use href="#ua" x="613.4" y="262.5"/><use href="#ua" x="621.0" y="275.0"/><use href="#ua" x="627.0" y="287.0"/><use href="#ua" x="640.0" y="288.0"/><use href="#ua" x="645.0" y="294.0"/><use href="#ua" x="559.2" y="253.8"/><use href="#ua" x="567.0" y="261.0"/><use href="#ua" x="819.0" y="328.0"/><use href="#ua" x="825.0" y="332.0"/><use href="#ua" x="847.0" y="337.0"/><use href="#ua" x="1469.6" y="227.5"/><use href="#ua" x="1478.0" y="234.0"/><use href="#ua" x="1484.0" y="243.0"/><use href="#ua" x="1490.0" y="256.0"/><use href="#ua" x="1492.0" y="264.0"/><use href="#ua" x="1397.0" y="211.5"/><use href="#ua" x="1404.0" y="211.8"/><use href="#ua" x="1411.0" y="217.0"/><polygon points="304,187 308.6,189.8 313.2,194.4 316.6,193.8 322.3,197.8 328,205.7 330.2,209.1 333.6,210.8 337,217.1 332.5,226.2 331.4,230.2 329,230.2 328,226.2 325.1,223.9 322.3,220.5 321.1,213.7 319.4,213.7 317.2,210.3 312,211.4 308.6,206.9 306.4,205.7 305.8,199.5 301.8,195.5 300.1,191.5"/><polygon points="613.4,262.5 619.6,268.2 625.9,273.9 630.4,278.5 632.7,282.4 631,284.7 629.3,284.1 629.9,288.7 631.6,294.4 629.3,295.5 628.7,299.5 627,299.5 626.5,295.5 623.6,295.5 624.2,292.1 621.9,289.8 620.2,293.2 618.5,293.2 618.5,290.4 616.2,288.7 617.9,284.1 616.2,280.7 614,277.3 612.3,272.8 610.5,268.8 611.1,266.5"/><polygon points="636.1,288.1 639,287 643.5,291 648.6,295.5 650.9,298.3 648.6,299.5 647.5,303.5 644.1,305.2 642.4,306.3 640.7,304.6 638.4,301.75 636.1,297.2 635,292.1"/><polygon points="559.2,253.8 563.6,256.9 567.7,261 571.8,262 574.5,264.4 575.9,267.8 572.8,269.1 572.5,271.5 568.1,271.9 567.7,274.2 565.3,274.2 565,271.5 561.9,271.2 562.3,268.4 561.2,265.7 558.5,265.7 558.5,268.1 556.5,268.1 556.5,265 553.1,263.7 553.4,260.3 555.5,256.9"/><polygon points="818.9,327.8 823.6,328.5 827.4,331.5 830.4,335 831.5,339 833.2,343.8 830.4,344.2 830.1,348.2 827.4,348.2 827,345.9 824.7,343.8 823.3,341.8 821.2,340.4 818.2,340.4 816.5,336.7 814.1,333.6 815.8,330.2"/><polygon points="844.1,336.7 848.9,336 851.6,338 852.9,341.1 851.9,343.8 849.5,347.2 847.5,348.6 844.8,347.2 842.7,344.5 840.7,342.5 840.7,338.7 842.7,337"/><polygon points="1397.2,211.5 1399.9,213.2 1404,211.8 1407.1,213.9 1410.5,216.2 1415.3,216.9 1418,220 1418.7,222 1417.3,224.8 1415.9,225.8 1414.9,229.2 1411.9,229.2 1408.4,228.2 1404.4,228.2 1404,224.8 1401,224.8 1401,219.7 1398.9,219.7 1398.6,222.4 1395.5,222.4 1395.2,218.6 1392.1,218 1393.1,215.2"/><polygon points="1469.6,227.5 1475.7,230.9 1481,235 1485.5,239.5 1487.5,245 1489.5,249.5 1490.7,252 1494.2,261.6 1493.5,265.7 1495.5,269.75 1492.8,271.8 1492.8,276.6 1490.7,276.6 1490,272.5 1487.3,272.5 1488.7,268.4 1485.3,264.3 1486,261.6 1483.2,254.7 1482.6,250.6 1478.5,249.3 1477.1,250.6 1475,250.6 1474.4,246.6 1472.3,245.9 1471.6,241.1 1467.5,239.7 1466.9,235.6 1464.1,235 1464.8,231.5"/></g>
<ellipse cx="195" cy="62" rx="28" ry="19" fill="none" stroke="#c9564a" stroke-width="6"/>
<polygon points="227.4,60.8 250.8,39.3 249,52.1 593.8,36.1 250.8,67 252.6,78" fill="#4178b8"/>
<polygon points="1531.3,195.8 1509.5,208.6 1520.4,210 1499,286.4 1530.4,214 1539.5,218.2" fill="#4178b8"/>
</svg>
<div class="top" style="left:-9.09px;transform:scaleX(0.900);">SpreadsSMA3Balance</div><div class="top" style="left:84.90px;transform:scaleX(1.000);">v6.1</div><div class="top" style="left:107.36px;transform:scaleX(0.871);">107455</div><div class="top" style="left:140.26px;transform:scaleX(0.880);">107626</div><div class="top" style="left:173.06px;transform:scaleX(0.883);">107720</div><div class="top" style="left:206.16px;transform:scaleX(0.886);">107532</div><div class="top" style="left:238.96px;transform:scaleX(0.883);">107455</div><div class="top" style="left:271.85px;transform:scaleX(0.899);">0</div>
<div class="tl" style="right:1501px">17 Sep 2025</div><div class="tl" style="left:52px">17 Sep 08:50</div><div class="tl" style="left:116px">17 Sep 14:10</div><div class="tl" style="left:180px">17 Sep 19:30</div><div class="tl" style="left:244px">18 Sep 01:00</div><div class="tl" style="left:308px">18 Sep 06:20</div><div class="tl" style="left:372px">18 Sep 11:40</div><div class="tl" style="left:436px">18 Sep 17:00</div><div class="tl" style="left:500px">18 Sep 22:20</div><div class="tl" style="left:564px">19 Sep 03:50</div><div class="tl" style="left:628px">19 Sep 09:10</div><div class="tl" style="left:692px">19 Sep 14:30</div><div class="tl" style="left:756px">19 Sep 19:50</div><div class="tl" style="left:820px">22 Sep 02:10</div><div class="tl" style="left:884px">22 Sep 07:30</div><div class="tl" style="left:948px">22 Sep 12:50</div><div class="tl" style="left:1012px">22 Sep 18:10</div><div class="tl" style="left:1076px">22 Sep 23:40</div><div class="tl" style="left:1140px">23 Sep 05:00</div><div class="tl" style="left:1204px">23 Sep 10:20</div><div class="tl" style="left:1268px">23 Sep 15:40</div><div class="tl" style="left:1332px">23 Sep 21:00</div><div class="tl" style="left:1396px">24 Sep 02:30</div><div class="tl" style="left:1460px">24 Sep 07:50</div>
<div id="active"></div>
<div class="tab" style="left:0.39px;transform:scaleX(0.940);">$US500,Daily</div><div class="tab" style="left:88.93px;transform:scaleX(0.930);">$USDX,H1</div><div class="tab" style="left:166.82px;transform:scaleX(0.954);">GBPUSD,M5</div><div class="tab" style="left:253.93px;transform:scaleX(0.934);">EURUSD,M5</div><div class="tab" style="left:339.51px;transform:scaleX(0.989);">AUDUSD,M5</div><div class="tab" style="left:428.03px;transform:scaleX(0.934);">EURUSD,M5</div><div class="tab" style="left:512.83px;transform:scaleX(0.934);">EURUSD,M5</div><div class="tab" style="left:598.12px;transform:scaleX(0.956);">EURGBP,M5</div><div class="tab" style="left:685.01px;transform:scaleX(0.978);">AUDUSD,M15</div><div class="tab" style="left:779.53px;transform:scaleX(0.944);">EURUSD,M5</div><div class="tab" style="left:865.52px;transform:scaleX(0.961);">$US500,M5</div><div class="tab" style="left:945.52px;transform:scaleX(0.968);">$USDX,M5</div><div class="tab" style="left:1108.03px;transform:scaleX(0.934);">EURUSD,M5</div><div class="tab" style="left:1193.71px;transform:scaleX(0.973);">XAUUSD,M5</div><div class="tab" style="left:1282.03px;transform:scaleX(0.942);">XAGUSD,H1</div><div class="tab" style="left:1023.02px;transform:scaleX(0.956);top:417px;color:#000;">EURGBP,M5</div><div class="sep" style="left:77px"></div><div class="sep" style="left:154px"></div><div class="sep" style="left:243px"></div><div class="sep" style="left:328px"></div><div class="sep" style="left:417px"></div><div class="sep" style="left:502px"></div><div class="sep" style="left:587px"></div><div class="sep" style="left:672px"></div><div class="sep" style="left:769px"></div><div class="sep" style="left:854px"></div><div class="sep" style="left:935px"></div><div class="sep" style="left:1182px"></div><div class="sep" style="left:1271px"></div>
</body></html>
